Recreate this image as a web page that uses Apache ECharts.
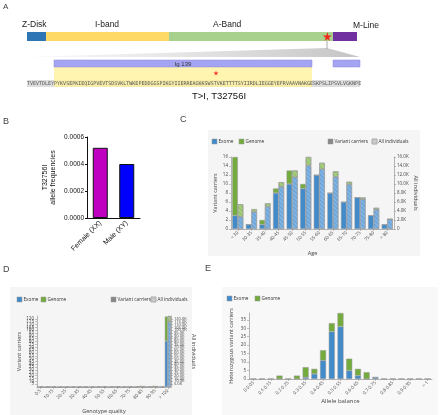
<!DOCTYPE html>
<html><head><meta charset="utf-8">
<script src="https://cdn.jsdelivr.net/npm/echarts@6/dist/echarts.min.js"></script>
<style>html,body{margin:0;padding:0;background:#fff}#c{width:440px;height:415px}</style>
</head><body><div id="c"></div>
<script>
// ---------- Panel A data (titin residues) ----------
const domainNames = ['Z-Disk', 'I-band', 'A-Band', 'M-Line'];
const domainStarts = [0, 2070, 15480, 33370];
const domainEnds = [2070, 15480, 33370, 35991];
const variantPos = 32756;
const zoomStart = 32693, zoomEnd = 32804;
const igNames = ['Ig 139', ''];
const igStarts = [32702, 32795];
const igEnds = [32788, 32804];
const sequence = 'TVEVTDLEYPYKVSEPKIEQIGPVEVTSDSVKLTWKEPEDDGGSPIKGYIIERREAGKKSWSTVKETTTTSYIIRDLIEGGEYEFRVAAVNAKGESKPSLIPSVLVGKNPE';
const variantText = 'T>I, T32756I';

// ---------- Panel B ----------
const sexCategories = ['Female (XX)', 'Male (XY)'];
const sexFreq = [0.00052, 0.0004];

// ---------- Panel C ----------
const ageBins = ['< 30', '30-35', '35-40', '40-45', '45-50', '50-55', '55-60', '60-65', '65-70', '70-75', '75-80', '> 80'];
const ageCarrierExome = [3, 1, 1, 8, 10, 9, 12, 8, 6, 7, 3, 1];
const ageCarrierGenome = [13, 0, 1, 1, 3, 1, 0, 0, 0, 0, 0, 0];
const ageAllExome = [2700, 3800, 5000, 9400, 11500, 14100, 13300, 11600, 9900, 6600, 4350, 2150];
const ageAllGenome = [2800, 600, 700, 1000, 1500, 1900, 1400, 1200, 600, 400, 350, 50];

// ---------- Panel D ----------
const gqBins = ['0-5', '5-10', '10-15', '15-20', '20-25', '25-30', '30-35', '35-40', '40-45', '45-50', '50-55', '55-60', '60-65', '65-70', '70-75', '75-80', '80-85', '85-90', '90-95', '95-100', '> 100'];
const gqCarrierExome = [0, 0, 0, 0, 0, 0, 0, 0, 0, 0, 0, 0, 0, 0, 0, 0, 0, 0, 0, 0, 81];
const gqCarrierGenome = [0, 0, 0, 0, 0, 0, 0, 0, 0, 0, 1, 0, 1, 0, 1, 0, 2, 0, 2, 0, 43];
const gqAllExome = [0, 0, 0, 0, 0, 0, 0, 0, 0, 0, 0, 0, 0, 0, 0, 0, 0, 0, 0, 0, 115000];
const gqAllGenome = [0, 0, 0, 0, 0, 0, 0, 0, 0, 0, 1000, 0, 1000, 0, 1000, 0, 1500, 0, 1500, 0, 10000];

// ---------- Panel E ----------
const abBins = ['0-0.05', '0.05-0.1', '0.1-0.15', '0.15-0.2', '0.2-0.25', '0.25-0.3', '0.3-0.35', '0.35-0.4', '0.4-0.45', '0.45-0.5', '0.5-0.55', '0.55-0.6', '0.6-0.65', '0.65-0.7', '0.7-0.75', '0.75-0.8', '0.8-0.85', '0.85-0.9', '0.9-0.95', '0.95-1', '> 1'];
const abExome = [0, 0, 0, 0, 0, 0, 1, 3, 11, 28, 31, 5, 2, 0, 1, 0, 0, 0, 0, 0, 0];
const abGenome = [0, 0, 0, 2, 0, 2, 6, 3, 6, 5, 8, 7, 4, 4, 0, 0, 0, 0, 0, 0, 0];

// ---------- styles ----------
const domainColors = ['#2e75b6', '#ffd966', '#a9d18e', '#7030a0'];
const EX = '#428bca', GE = '#73ab3d';
const EXL = '#6ea7dc', GEL = '#97c46c';
const FS = 'Open Sans', AR = 'Liberation Sans';
const STAR = 'path://M50,0 L61,35 L98,35 L68,57 L79,91 L50,70 L21,91 L32,57 L2,35 L39,35 Z';
const hatch = {symbol: 'rect', symbolSize: 1, dashArrayX: [1, 0], dashArrayY: [1, 1.5], rotation: Math.PI / 4, color: 'rgba(255,255,255,0.22)'};

function makeRange(labels, stroke) {
  return function (params, api) {
    const p0 = api.coord([api.value(0), 1]);
    const p1 = api.coord([api.value(1), 0]);
    const ch = [{type: 'rect', shape: {x: p0[0], y: p0[1], width: p1[0] - p0[0], height: p1[1] - p0[1]},
      style: {fill: api.visual('color'), stroke: stroke || null, lineWidth: stroke ? 0.5 : 0}}];
    const nm = labels ? labels[params.dataIndex] : '';
    if (nm) {
      ch.push({type: 'text', style: {text: nm, x: (p0[0] + p1[0]) / 2, y: (p0[1] + p1[1]) / 2 + 0.5, align: 'center', verticalAlign: 'middle', font: '6px "Liberation Sans"', fill: '#333'}});
    }
    return {type: 'group', children: ch};
  };
}

function txt(x, y, t, size, opt) {
  return {type: 'text', x: x, y: y, z: 20, style: Object.assign({text: t, font: size + 'px "' + AR + '"', fill: '#222'}, opt || {})};
}
function rect(x, y, w, h, fill) {
  return {type: 'rect', z: -5, shape: {x: x, y: y, width: w, height: h}, style: {fill: fill}};
}
function legendBox(x, y, fill, label, decal) {
  const st = {fill: fill, stroke: '#999', lineWidth: 0.5};
  if (decal) st.decal = hatch;
  return [
    {type: 'rect', z: 20, shape: {x: x, y: y, width: 5, height: 5}, style: st},
    {type: 'text', z: 20, x: x + 6.5, y: y + 2.5, style: {text: label, font: '4.7px "' + FS + '"', fill: '#333', verticalAlign: 'middle'}}
  ];
}

const K = v => v === 0 ? '0' : (v / 1000).toFixed(1) + 'K';
const thinAxis = {lineStyle: {color: '#888', width: 0.6}};

const graphic = [].concat(
  [
    rect(208, 130, 212, 126, '#f5f5f5'),
    rect(10, 287, 182, 128, '#f5f5f5'),
    rect(222, 287, 216, 128, '#f8f8f8'),
    txt(3, 3, 'A', 8, {fill: '#444'}),
    txt(3, 117, 'B', 9, {fill: '#444'}),
    txt(180, 115, 'C', 9, {fill: '#444'}),
    txt(3, 265, 'D', 9, {fill: '#444'}),
    txt(205, 264, 'E', 9, {fill: '#444'}),
    txt(22, 20, 'Z-Disk', 8.5),
    txt(95, 20, 'I-band', 8.5),
    txt(213, 20, 'A-Band', 8.5),
    txt(353, 21, 'M-Line', 8.5),
    {type: 'polygon', z: -3, shape: {points: [[27, 57], [327, 48], [360, 57]]},
      style: {fill: new echarts.graphic.LinearGradient(0, 0, 1, 0, [{offset: 0, color: 'rgba(220,220,220,0.2)'}, {offset: 1, color: '#c4c4c4'}])}},
    {type: 'line', z: -3, shape: {x1: 327, y1: 41, x2: 327, y2: 49}, style: {stroke: '#aaa', lineWidth: 1}},
    rect(27, 80, 333, 7, '#dedede'),
    {type: 'text', z: 30, x: 27, y: 83.5, style: {text: sequence, font: '5px "DejaVu Sans Mono"', fill: '#555', verticalAlign: 'middle'}},
    txt(219, 91, variantText, 9.5, {align: 'center', fill: '#111'})
  ],
  legendBox(212, 139, EX, 'Exome'),
  legendBox(239, 139, GE, 'Genome'),
  legendBox(328, 139, '#888', 'Variant carriers'),
  legendBox(372, 139, '#c8c8c8', 'All individuals', true),
  legendBox(17, 297, EX, 'Exome'),
  legendBox(41, 297, GE, 'Genome'),
  legendBox(111, 297, '#888', 'Variant carriers'),
  legendBox(151, 297, '#c8c8c8', 'All individuals', true),
  legendBox(227, 296, EX, 'Exome'),
  legendBox(255, 296, GE, 'Genome')
);

function gAxisCat(gi, data, interval) {
  return {type: 'category', gridIndex: gi, data: data,
    axisLine: thinAxis, axisTick: {show: true, length: 2, alignWithLabel: true, lineStyle: {color: '#888', width: 0.5}},
    axisLabel: {interval: interval, rotate: 45, fontSize: 4.5, fontFamily: FS, color: '#444', margin: 3}};
}
function gAxisVal(gi, opt) {
  return Object.assign({type: 'value', gridIndex: gi, splitLine: {show: false},
    axisLine: {show: true, lineStyle: {color: '#888', width: 0.6}},
    axisTick: {show: true, length: 2, lineStyle: {color: '#888', width: 0.5}},
    axisLabel: {fontSize: 4.5, fontFamily: FS, color: '#444', margin: 3},
    nameLocation: 'middle', nameTextStyle: {fontSize: 5.5, fontFamily: FS, color: '#444'}}, opt);
}
const barBorder = {borderColor: '#999', borderWidth: 0.5};

const option = {
  animation: false,
  backgroundColor: '#fff',
  graphic: graphic,
  grid: [
    {left: 27, top: 32, width: 330, height: 9},
    {left: 27, top: 60, width: 333, height: 7},
    {left: 27, top: 67, width: 333, height: 20},
    {left: 87, top: 137, width: 53, height: 81},
    {left: 231, top: 157, width: 163, height: 72},
    {left: 37, top: 316, width: 134, height: 71},
    {left: 249, top: 313, width: 183, height: 66}
  ],
  xAxis: [
    {type: 'value', gridIndex: 0, min: 0, max: 35991, show: false},
    {type: 'value', gridIndex: 1, min: zoomStart, max: zoomEnd, show: false},
    {type: 'value', gridIndex: 2, min: zoomStart, max: zoomEnd, show: false},
    {type: 'category', gridIndex: 3, data: sexCategories,
      axisLine: {lineStyle: {color: '#111', width: 1}}, axisTick: {show: false},
      axisLabel: {rotate: 45, fontSize: 7, fontFamily: AR, color: '#111', margin: 4}},
    Object.assign(gAxisCat(4, ageBins, 0), {name: 'Age', nameLocation: 'middle', nameGap: 21, nameTextStyle: {fontSize: 5.5, fontFamily: FS, color: '#444'}}),
    Object.assign(gAxisCat(5, gqBins, 1), {name: 'Genotype quality', nameLocation: 'middle', nameGap: 21, nameTextStyle: {fontSize: 5.5, fontFamily: FS, color: '#444'}}),
    Object.assign(gAxisCat(6, abBins, 1), {name: 'Allele balance', nameLocation: 'middle', nameGap: 19, nameTextStyle: {fontSize: 6, fontFamily: FS, color: '#444'}})
  ],
  yAxis: [
    {type: 'value', gridIndex: 0, min: 0, max: 1, show: false},
    {type: 'value', gridIndex: 1, min: 0, max: 1, show: false},
    {type: 'value', gridIndex: 2, min: 0, max: 1, show: false},
    {type: 'value', gridIndex: 3, min: 0, max: 0.0006, interval: 0.0002, splitLine: {show: false},
      axisLine: {show: true, lineStyle: {color: '#111', width: 1}}, axisTick: {show: true, length: 2, lineStyle: {color: '#111'}},
      axisLabel: {fontSize: 6.5, fontFamily: AR, color: '#111', margin: 3, formatter: v => v.toFixed(4)},
      name: 'T32756I\nallele frequencies', nameLocation: 'middle', nameGap: 30,
      nameTextStyle: {fontSize: 7, fontFamily: AR, color: '#111', lineHeight: 8}},
    gAxisVal(4, {min: 0, max: 16, interval: 2, name: 'Variant carriers', nameGap: 13}),
    gAxisVal(4, {min: 0, max: 16000, interval: 2000, position: 'right', axisLabel: {fontSize: 4.5, fontFamily: FS, color: '#444', margin: 3, formatter: K}, name: 'All individuals', nameGap: 14, nameRotate: -90}),
    gAxisVal(5, {min: 0, max: 125, interval: 5, name: 'Variant carriers', nameGap: 13}),
    gAxisVal(5, {min: 0, max: 125000, interval: 5000, position: 'right', axisLabel: {fontSize: 4, fontFamily: FS, color: '#444', margin: 3, formatter: K}, name: 'All individuals', nameGap: 13, nameRotate: -90}),
    gAxisVal(6, {min: 0, max: 39, interval: 5, axisLabel: {fontSize: 4.5, fontFamily: FS, color: '#444', margin: 3, showMaxLabel: false}, name: 'Heterozygous variant carriers', nameGap: 15, nameTextStyle: {fontSize: 5.5, fontFamily: FS, color: '#444'}})
  ],
  series: [
    {type: 'custom', name: 'domains', xAxisIndex: 0, yAxisIndex: 0, renderItem: makeRange(null, null), encode: {x: [0, 1]},
      data: domainStarts.map((s, i) => ({value: [s, domainEnds[i]], itemStyle: {color: domainColors[i]}}))},
    {type: 'scatter', xAxisIndex: 0, yAxisIndex: 0, symbol: STAR, symbolSize: 9, z: 5, itemStyle: {color: '#ff0000'}, data: [[variantPos, 0.5]]},
    {type: 'custom', name: 'ig', xAxisIndex: 1, yAxisIndex: 1, renderItem: makeRange(igNames, '#8a8ad8'), encode: {x: [0, 1]},
      data: igStarts.map((s, i) => ({value: [s, igEnds[i]], itemStyle: {color: '#a4a4f2'}}))},
    {type: 'custom', name: 'igzone', xAxisIndex: 2, yAxisIndex: 2, renderItem: makeRange(null, null), encode: {x: [0, 1]}, z: 1,
      data: [{value: [igStarts[0], igEnds[0]], itemStyle: {color: 'rgba(255,240,150,0.75)'}}]},
    {type: 'scatter', xAxisIndex: 2, yAxisIndex: 2, symbol: STAR, symbolSize: 5, z: 5, itemStyle: {color: '#ff0000'}, data: [[variantPos, 0.7]]},
    // B
    {type: 'bar', xAxisIndex: 3, yAxisIndex: 3, barWidth: 15, data: sexFreq.map((v, i) => ({value: v, itemStyle: {color: i === 0 ? '#c000c0' : '#0000ff'}})),
      itemStyle: {borderColor: '#111', borderWidth: 1}},
    // C
    {type: 'bar', name: 'Exome', stack: 'cv', xAxisIndex: 4, yAxisIndex: 4, barWidth: 5.5, barGap: '0%', data: ageCarrierExome, itemStyle: Object.assign({color: EX}, barBorder)},
    {type: 'bar', name: 'Genome', stack: 'cv', xAxisIndex: 4, yAxisIndex: 4, barWidth: 5.5, barGap: '0%', data: ageCarrierGenome, itemStyle: Object.assign({color: GE}, barBorder)},
    {type: 'bar', name: 'Exome all', stack: 'ca', xAxisIndex: 4, yAxisIndex: 5, barWidth: 5.5, barGap: '0%', data: ageAllExome, itemStyle: Object.assign({color: EXL, decal: hatch}, barBorder)},
    {type: 'bar', name: 'Genome all', stack: 'ca', xAxisIndex: 4, yAxisIndex: 5, barWidth: 5.5, barGap: '0%', data: ageAllGenome, itemStyle: Object.assign({color: GEL, decal: hatch}, barBorder)},
    // D
    {type: 'bar', name: 'Exome', stack: 'dv', xAxisIndex: 5, yAxisIndex: 6, barWidth: 3, barGap: '0%', data: gqCarrierExome, itemStyle: Object.assign({color: EX}, barBorder)},
    {type: 'bar', name: 'Genome', stack: 'dv', xAxisIndex: 5, yAxisIndex: 6, barWidth: 3, barGap: '0%', data: gqCarrierGenome, itemStyle: Object.assign({color: GE}, barBorder)},
    {type: 'bar', name: 'Exome all', stack: 'da', xAxisIndex: 5, yAxisIndex: 7, barWidth: 3, barGap: '0%', data: gqAllExome, itemStyle: Object.assign({color: EXL, decal: hatch}, barBorder)},
    {type: 'bar', name: 'Genome all', stack: 'da', xAxisIndex: 5, yAxisIndex: 7, barWidth: 3, barGap: '0%', data: gqAllGenome, itemStyle: Object.assign({color: GEL, decal: hatch}, barBorder)},
    // E
    {type: 'bar', name: 'Exome', stack: 'e', xAxisIndex: 6, yAxisIndex: 8, barWidth: 6, data: abExome, itemStyle: Object.assign({color: EX}, barBorder)},
    {type: 'bar', name: 'Genome', stack: 'e', xAxisIndex: 6, yAxisIndex: 8, barWidth: 6, data: abGenome, itemStyle: Object.assign({color: GE}, barBorder)}
  ]
};
const chart = echarts.init(document.getElementById('c'));
chart.setOption(option);
</script></body></html>
